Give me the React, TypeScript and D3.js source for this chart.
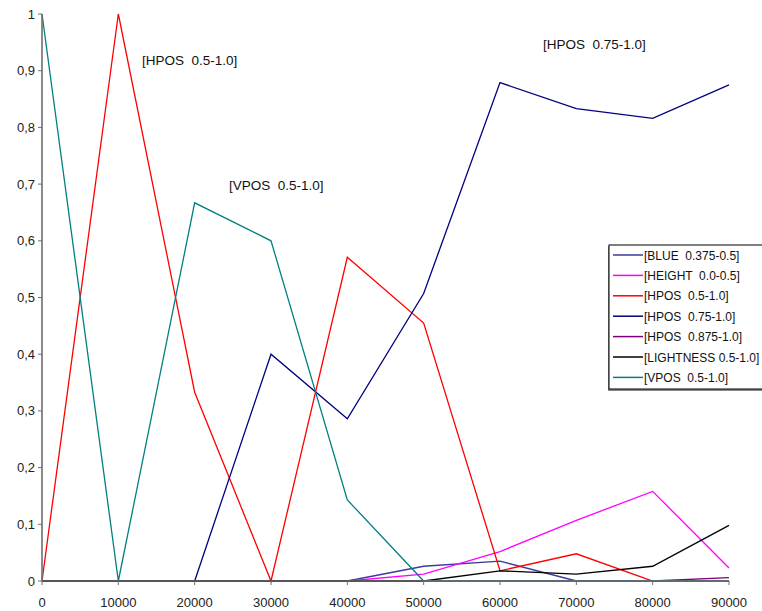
import React from "react";
import * as d3 from "d3";

const xValues = [0, 10000, 20000, 30000, 40000, 50000, 60000, 70000, 80000, 90000];
const yTicks = [0, 0.1, 0.2, 0.3, 0.4, 0.5, 0.6, 0.7, 0.8, 0.9, 1];

const seriesNames = [
  "[BLUE  0.375-0.5]",
  "[HEIGHT  0.0-0.5]",
  "[HPOS  0.5-1.0]",
  "[HPOS  0.75-1.0]",
  "[HPOS  0.875-1.0]",
  "[LIGHTNESS 0.5-1.0]",
  "[VPOS  0.5-1.0]",
];
const seriesColors = ["#3a3aa0", "#ff00ff", "#ff0000", "#000080", "#800080", "#000000", "#008080"];

const blue = [0, 0, 0, 0, 0, 0.026, 0.035, 0, 0, 0];
const height = [0, 0, 0, 0, 0, 0.012, 0.052, 0.107, 0.158, 0.023];
const hpos05 = [0, 1, 0.333, 0, 0.571, 0.455, 0.018, 0.048, 0, 0];
const hpos075 = [0, 0, 0, 0.4, 0.286, 0.507, 0.879, 0.833, 0.816, 0.875];
const hpos0875 = [0, 0, 0, 0, 0, 0, 0, 0, 0, 0.006];
const lightness = [0, 0, 0, 0, 0, 0, 0.018, 0.012, 0.026, 0.098];
const vpos = [1, 0, 0.667, 0.6, 0.143, 0, 0, 0, 0, 0];

const seriesValues = [blue, height, hpos05, hpos075, hpos0875, lightness, vpos];

const annotations = [
  { text: "[HPOS  0.5-1.0]", x: 142, y: 65 },
  { text: "[VPOS  0.5-1.0]", x: 229, y: 190 },
  { text: "[HPOS  0.75-1.0]", x: 543, y: 49 },
];

export default function App() {
  const W = 762, H = 611;
  const x = d3.scaleLinear().domain([0, 90000]).range([42, 729]);
  const y = d3.scaleLinear().domain([0, 1]).range([581, 14]);
  const line = d3.line<number>().x((_, i) => x(xValues[i])).y((d) => y(d));
  const font = "Liberation Sans, Arial, sans-serif";
  const axisColor = "#6e6e6e";
  const fmt = (v: number) => (v === 0 ? "0" : v === 1 ? "1" : d3.format(".1f")(v).replace(".", ","));

  const legX = 609, legY = 245, rowH = 20.4;

  return (
    <svg width={W} height={H} style={{ position: "absolute", left: 0, top: 0, fontFamily: font }}>
      <rect width={W} height={H} fill="#fff" />
      {seriesValues.map((vals, i) => (
        <path key={i} d={line(vals) || ""} fill="none" stroke={seriesColors[i]} strokeWidth={1.3} />
      ))}
      <line x1={x(0)} x2={x(0)} y1={y(1)} y2={y(0)} stroke={axisColor} strokeWidth={1.6} />
      <line x1={x(0)} x2={x(90000)} y1={y(0)} y2={y(0)} stroke={axisColor} strokeWidth={1.6} />
      {yTicks.map((t) => (
        <g key={t}>
          <line x1={x(0) - 4} x2={x(0)} y1={y(t)} y2={y(t)} stroke={axisColor} strokeWidth={1} />
          <text x={35} y={y(t) + 4.5} textAnchor="end" fontSize={13} fill="#222">{fmt(t)}</text>
        </g>
      ))}
      {xValues.map((t) => (
        <g key={t}>
          <line x1={x(t)} x2={x(t)} y1={y(0)} y2={y(0) + 4} stroke={axisColor} strokeWidth={1} />
          <text x={x(t)} y={607} textAnchor="middle" fontSize={13} fill="#222">{t}</text>
        </g>
      ))}
      {annotations.map((a, i) => (
        <text key={i} x={a.x} y={a.y} fontSize={13.5} fill="#111" style={{ whiteSpace: "pre" }}>{a.text}</text>
      ))}
      <rect x={legX - 1} y={legY + 1} width={W - legX + 4} height={145} fill="#888" />
      <rect x={legX} y={legY} width={W - legX + 2} height={144} fill="#fff" stroke="#000" strokeWidth={1} />
      {seriesNames.map((n, i) => (
        <g key={i}>
          <line x1={legX + 4} x2={legX + 34} y1={legY + 10 + i * rowH} y2={legY + 10 + i * rowH} stroke={seriesColors[i]} strokeWidth={1.5} />
          <text x={legX + 35} y={legY + 14.5 + i * rowH} fontSize={12} fill="#111" style={{ whiteSpace: "pre" }}>{n}</text>
        </g>
      ))}
    </svg>
  );
}
